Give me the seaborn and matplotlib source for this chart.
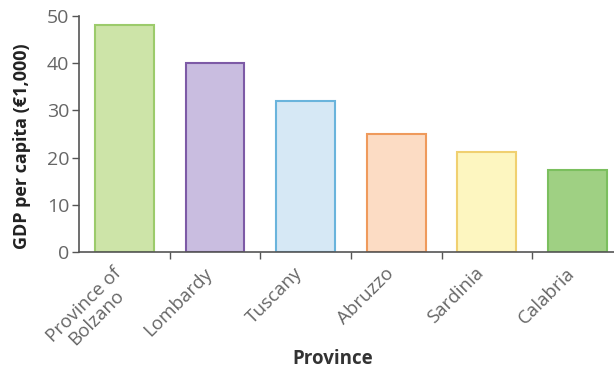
import matplotlib
matplotlib.use("Agg")
import matplotlib.pyplot as plt
import matplotlib.transforms as mtransforms
import seaborn as sns
import pandas as pd

# data
provinces = ["Province of\nBolzano", "Lombardy", "Tuscany", "Abruzzo", "Sardinia", "Calabria"]
gdp_per_capita = [48, 40, 32, 25, 21.2, 17.4]
fill_colors = ["#cde4a8", "#c9bde0", "#d6e8f5", "#fcdcc4", "#fdf6c0", "#9fd083"]
edge_colors = ["#9ccb6b", "#7d5aa6", "#6ab4dc", "#ef9a5c", "#f0d070", "#7bbf5e"]

sns.set_style("white")
plt.rcParams["font.family"] = ["Open Sans", "DejaVu Sans"]

df = pd.DataFrame({"Province": provinces, "GDP": gdp_per_capita})

fig = plt.figure(figsize=(6.14, 3.71), dpi=100)
ax = fig.add_axes([0.1287, 0.321, 0.871, 0.636])

sns.barplot(data=df, x="Province", y="GDP", hue="Province", palette=fill_colors,
            saturation=1, width=0.65, legend=False, ax=ax)
for bar, ec in zip(ax.patches, edge_colors):
    bar.set_edgecolor(ec)
    bar.set_linewidth(1.5)

ax.set_xlim(-0.5, 5.4)
ax.set_ylim(0, 50)
ax.set_yticks([0, 10, 20, 30, 40, 50])

for side in ["top", "right"]:
    ax.spines[side].set_visible(False)
for side in ["left", "bottom"]:
    ax.spines[side].set_color("#555555")
    ax.spines[side].set_linewidth(1.2)

# ticks sit between categories, labels at bar centres
ax.set_xticks([0.5, 1.5, 2.5, 3.5, 4.5], minor=True)
ax.tick_params(axis="x", which="major", length=0, pad=6)
ax.tick_params(axis="x", which="minor", bottom=True, direction="out", length=5,
               width=1, color="#555555")
ax.tick_params(axis="y", left=True, direction="out", length=5, width=1,
               color="#555555", labelsize=14, labelcolor="#666666", pad=2)
ax.set_xticks(range(len(provinces)))
ax.set_xticklabels(provinces, rotation=45, ha="right", rotation_mode="anchor",
                   multialignment="center", fontsize=13.5, color="#666666",
                   linespacing=1.0)
shift = mtransforms.ScaledTranslation(-12 / 100, -4 / 100, fig.dpi_scale_trans)
for lbl in ax.get_xticklabels():
    lbl.set_transform(lbl.get_transform() + shift)

ax.set_xlabel("Province", fontsize=13.5, fontweight="bold", color="#333333")
ax.xaxis.set_label_coords((333 - 79) / 535, -0.41)
ax.set_ylabel("GDP per capita (€1,000)", fontsize=13, fontweight="bold",
              color="#222222")
ax.yaxis.set_label_coords(-0.09, 0.45)

fig.savefig("out.png", dpi=100)
